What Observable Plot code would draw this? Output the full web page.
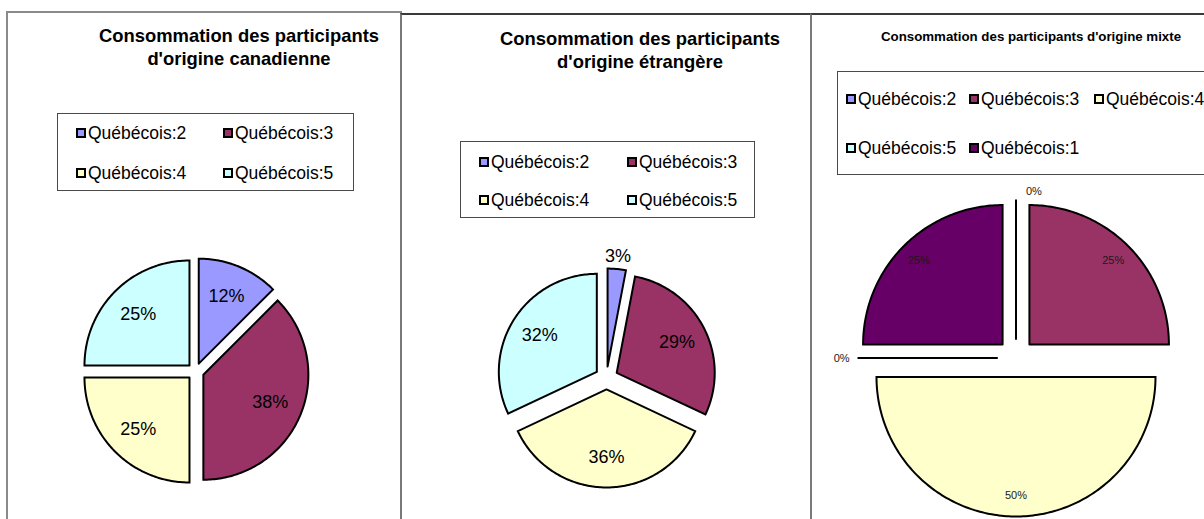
<!DOCTYPE html>
<html>
<head>
<meta charset="utf-8">
<script src="https://cdn.jsdelivr.net/npm/d3@7"></script>
<script src="https://cdn.jsdelivr.net/npm/@observablehq/plot@0.6"></script>
<style>
  html, body { margin: 0; padding: 0; background: #fff; }
  #page { position: relative; width: 1204px; height: 519px; overflow: hidden; font-family: "Liberation Sans", Arial, sans-serif; color: #000; }
  .panel { position: absolute; box-sizing: content-box; }
  .title { position: absolute; text-align: center; font-weight: bold; white-space: nowrap; }
  .legend { position: absolute; box-sizing: border-box; border: 1px solid #4a4a4a; background: #fff; }
  .item { position: absolute; height: 20px; display: flex; align-items: center; font-size: 17.5px; white-space: nowrap; }
  .mark { box-sizing: border-box; width: 10px; height: 10px; border: 2px solid #000; margin-right: 2px; flex: none; }
  .pie { position: absolute; }
</style>
</head>
<body>
<div id="page">
  <div class="panel" style="left:6px;top:11px;width:392px;height:520px;border-top:2px solid #8a8a8a;border-left:2px solid #8a8a8a;border-right:2px solid #8a8a8a;"></div>
  <div class="panel" style="left:400px;top:13px;width:408px;height:520px;border-top:2px solid #3a3a3a;border-left:2px solid #7a7a7a;border-right:2px solid #7a7a7a;"></div>
  <div class="panel" style="left:810px;top:13px;width:500px;height:520px;border-top:2px solid #3a3a3a;border-left:2px solid #7a7a7a;"></div>

  <div class="title" style="left:39px;top:24px;width:400px;font-size:18.4px;line-height:23.3px;">Consommation des participants<br>d'origine canadienne</div>
  <div class="title" style="left:440px;top:27px;width:400px;font-size:18.4px;line-height:23.3px;">Consommation des participants<br>d'origine étrangère</div>
  <div class="title" style="left:831px;top:29px;width:400px;font-size:13.3px;line-height:16px;">Consommation des participants d'origine mixte</div>

  <div class="legend" id="leg1" style="left:57px;top:113px;width:297px;height:78px;"></div>
  <div class="legend" id="leg2" style="left:460px;top:141px;width:295px;height:77px;"></div>
  <div class="legend" id="leg3" style="left:837px;top:71px;width:420px;height:104px;"></div>

  <div class="pie" id="pie1" style="left:8px;top:180px;"></div>
  <div class="pie" id="pie2" style="left:402px;top:180px;"></div>
  <div class="pie" id="pie3" style="left:812px;top:180px;"></div>
</div>
<script>
// ---------- data ----------
const cats1 = ["Québécois:2", "Québécois:3", "Québécois:4", "Québécois:5"];
const vals1 = [12.5, 37.5, 25, 25];
const labels1 = ["12%", "38%", "25%", "25%"];

const cats2 = ["Québécois:2", "Québécois:3", "Québécois:4", "Québécois:5"];
const vals2 = [3, 29, 36, 32];
const labels2 = ["3%", "29%", "36%", "32%"];

const cats3 = ["Québécois:2", "Québécois:3", "Québécois:4", "Québécois:5", "Québécois:1"];
const vals3 = [0, 25, 50, 0, 25];
const labels3 = ["0%", "25%", "50%", "0%", "25%"];

// ---------- styles ----------
const colorDomain = ["Québécois:1", "Québécois:2", "Québécois:3", "Québécois:4", "Québécois:5"];
const colorRange = ["#660066", "#9999FF", "#993366", "#FFFFCC", "#CCFFFF"];
const colorOf = new Map(colorDomain.map((d, i) => [d, colorRange[i]]));

// legends
function legend(id, cats, cols, rows) {
  const el = document.getElementById(id);
  cats.forEach((c, i) => {
    const r = Math.floor(i / cols.length), k = i % cols.length;
    const it = document.createElement("div");
    it.className = "item";
    it.style.left = cols[k] + "px";
    it.style.top = (rows[r] - 10) + "px";
    const m = document.createElement("span");
    m.className = "mark";
    m.style.background = colorOf.get(c);
    const t = document.createElement("span");
    t.textContent = c;
    it.appendChild(m); it.appendChild(t);
    el.appendChild(it);
  });
}
legend("leg1", cats1, [18, 165], [19, 59]);
legend("leg2", cats2, [18, 166], [20, 58]);
legend("leg3", cats3, [8, 131, 256], [27, 76]);

// pies
function pie(id, cats, vals, labs, cfg) {
  const total = d3.sum(vals);
  const pts = [], lab = [];
  let acc = 0;
  cats.forEach((c, i) => {
    const a0 = acc / total * 2 * Math.PI; acc += vals[i];
    const a1 = acc / total * 2 * Math.PI;
    const m = (a0 + a1) / 2;
    const ox = cfg.explode * Math.sin(m), oy = cfg.explode * Math.cos(m);
    pts.push({series: c, x: ox, y: oy});
    const n = Math.max(1, Math.ceil((a1 - a0) / (Math.PI / 180)));
    for (let k = 0; k <= n; k++) {
      const a = a0 + (a1 - a0) * k / n;
      pts.push({series: c, x: ox + Math.sin(a), y: oy + Math.cos(a)});
    }
    pts.push({series: c, x: ox, y: oy});
    const outside = vals[i] / total < 0.05;
    const kk = outside ? cfg.outsideK : cfg.labelK;
    const s = Math.sin(m);
    let anchor = "middle", dx = 0;
    if (outside) {
      if (s > 0.5) anchor = "start";
      else if (s < -0.5) anchor = "end";
      else { anchor = cfg.topAnchor; dx = cfg.topDx / cfg.R; }
    }
    lab.push({x: ox + kk * Math.sin(m) + dx, y: oy + kk * Math.cos(m), text: labs[i], anchor});
  });
  const {w, h, x0, y0, cx, cy, R} = cfg;
  const textMarks = ["start", "middle", "end"].map(a =>
    Plot.text(lab.filter(d => d.anchor === a), {
      x: "x", y: "y", text: "text", textAnchor: a, lineAnchor: "middle",
      fontSize: cfg.fontSize, fill: cfg.textFill
    }));
  const chart = Plot.plot({
    width: w, height: h, margin: 0,
    style: {background: "none", fontFamily: "'Liberation Sans', Arial, sans-serif", overflow: "visible"},
    x: {domain: [(x0 - cx) / R, (x0 + w - cx) / R], axis: null},
    y: {domain: [(cy - (y0 + h)) / R, (cy - y0) / R], axis: null},
    color: {domain: colorDomain, range: colorRange},
    marks: [
      Plot.line(pts, {x: "x", y: "y", z: "series", fill: "series", stroke: "#000",
        strokeWidth: 2, strokeLinejoin: "miter", strokeMiterlimit: 10, curve: "linear"}),
      ...textMarks
    ]
  });
  document.getElementById(id).appendChild(chart);
}

pie("pie1", cats1, vals1, labels1, {x0: 8, y0: 180, w: 392, h: 339, cx: 195, cy: 371, R: 105,
  explode: 0.081, labelK: 0.69, outsideK: 1.13, topAnchor: "middle", topDx: 0, fontSize: 18, textFill: "#000"});
pie("pie2", cats2, vals2, labels2, {x0: 402, y0: 180, w: 408, h: 339, cx: 606, cy: 377.5, R: 98,
  explode: 0.117, labelK: 0.69, outsideK: 1.13, topAnchor: "middle", topDx: 0, fontSize: 18, textFill: "#000"});
pie("pie3", cats3, vals3, labels3, {x0: 812, y0: 180, w: 392, h: 339, cx: 1015.5, cy: 357.5, R: 139.5,
  explode: 0.136, labelK: 0.85, outsideK: 1.057, topAnchor: "start", topDx: 10, fontSize: 11, textFill: "#1a1a1a"});
</script>
</body>
</html>
